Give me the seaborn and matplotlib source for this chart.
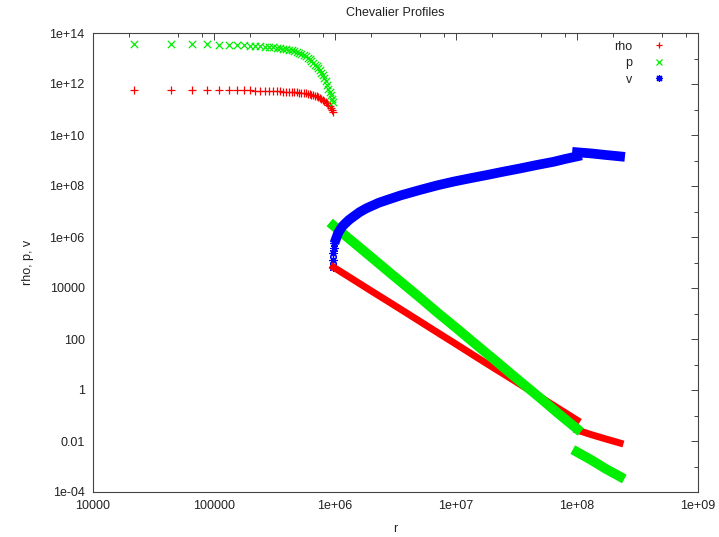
import matplotlib
matplotlib.use('Agg')
import matplotlib.pyplot as plt
import seaborn as sns
from matplotlib.ticker import FixedLocator, FixedFormatter, LogLocator, NullFormatter
from matplotlib.lines import Line2D

# ---------------- data ----------------
r_inner = [22000, 44000, 66000, 88000, 110000, 132000, 154000, 176000, 198000, 220000,
           242000, 264000, 286000, 308000, 330000, 352000, 374000, 396000, 418000, 440000,
           462000, 484000, 506000, 528000, 550000, 572000, 594000, 616000, 638000, 660000,
           682000, 704000, 726000, 748000, 770000, 792000, 814000, 836000, 858000, 880000,
           902000, 924000, 946000, 968000]
rho_inner = [5.89e11, 5.89e11, 5.89e11, 5.89e11, 5.75e11, 5.75e11, 5.75e11, 5.62e11, 5.62e11, 5.50e11,
             5.50e11, 5.37e11, 5.37e11, 5.25e11, 5.25e11, 5.13e11, 5.01e11, 5.01e11, 4.90e11, 4.79e11,
             4.79e11, 4.68e11, 4.57e11, 4.47e11, 4.37e11, 4.27e11, 4.07e11, 3.89e11, 3.80e11, 3.63e11,
             3.47e11, 3.31e11, 3.09e11, 2.88e11, 2.69e11, 2.40e11, 2.19e11, 2.00e11, 1.78e11, 1.55e11,
             1.38e11, 1.17e11, 1.00e11, 8.1e10]
p_inner = [3.63e13, 3.63e13, 3.63e13, 3.55e13, 3.47e13, 3.47e13, 3.39e13, 3.31e13, 3.16e13, 3.09e13,
           3.02e13, 2.95e13, 2.88e13, 2.75e13, 2.63e13, 2.51e13, 2.40e13, 2.29e13, 2.24e13, 2.14e13,
           2.00e13, 1.82e13, 1.66e13, 1.51e13, 1.35e13, 1.20e13, 1.07e13, 9.3e12, 7.9e12, 6.8e12,
           5.75e12, 4.9e12, 4.17e12, 3.47e12, 2.82e12, 2.24e12, 1.74e12, 1.26e12, 8.9e11, 6.6e11,
           4.8e11, 3.55e11, 2.69e11, 2.04e11]

r_mid = [9.7e5, 1.2e6, 1.5e6, 2e6, 3e6, 5e6, 7e6, 1e7, 1.5e7, 2e7, 3e7, 5e7, 7e7, 1e8]
rho_mid = [6.6e4, 3.5e4, 1.8e4, 7.6e3, 2.3e3, 500, 182, 63, 18.6, 7.9, 2.4, 0.52, 0.19, 0.066]
p_mid = [2.8e6, 1.2e6, 5.0e5, 1.6e5, 3.2e4, 4.3e3, 1.1e3, 275, 55, 17.8, 3.5, 0.47, 0.12, 0.030]

r_vpts = [9.6e5, 9.65e5, 9.7e5, 9.8e5, 9.9e5, 1.0e6]
v_pts = [6.6e4, 1.3e5, 2.3e5, 3.7e5, 5.8e5, 8.0e5]
r_vmid = [1.02e6, 1.04e6, 1.06e6, 1.1e6, 1.15e6, 1.2e6, 1.3e6, 1.42e6, 1.6e6, 1.8e6, 1.95e6,
          2.3e6, 2.67e6, 3.5e6, 5.04e6, 7e6, 9.5e6, 1.3e7, 1.8e7, 2.5e7, 3.4e7, 4.6e7,
          6.4e7, 8e7, 1e8]
v_mid = [8.5e5, 1.1e6, 1.4e6, 1.9e6, 2.6e6, 3.2e6, 4.6e6, 6.3e6, 9.5e6, 1.3e7, 1.55e7,
         2.2e7, 2.8e7, 4.3e7, 7.0e7, 1.06e8, 1.48e8, 2.0e8, 2.7e8, 3.7e8, 4.9e8, 6.6e8,
         8.9e8, 1.15e9, 1.45e9]

r_out = [1e8, 1.3e8, 1.7e8, 2.27e8]
rho_out = [0.027, 0.018, 0.0123, 0.0083]
p_out = [0.0037, 0.00185, 8.5e-4, 4.0e-4]
v_out = [2.1e9, 1.9e9, 1.66e9, 1.45e9]

xticks = [1e4, 1e5, 1e6, 1e7, 1e8, 1e9]
xtick_labels = ["10000", "100000", "1e+06", "1e+07", "1e+08", "1e+09"]
yticks = [1e-4, 1e-2, 1, 1e2, 1e4, 1e6, 1e8, 1e10, 1e12, 1e14]
ytick_labels = ["1e-04", "0.01", "1", "100", "10000", "1e+06", "1e+08", "1e+10", "1e+12", "1e+14"]
yminor = [1e-3, 1e-1, 1e1, 1e3, 1e5, 1e7, 1e9, 1e11, 1e13]
series_names = ["rho", "p", "v"]

# ---------------- styling ----------------
sns.set_theme(style='white')
plt.rcParams['font.family'] = ['Liberation Sans', 'DejaVu Sans']
TXT = '#222222'
FS = 9
RED, GREEN, BLUE = '#ff0000', '#00ee00', '#0000ff'
ASTER = (8, 2, 0)

fig = plt.figure(figsize=(7.19, 5.37), dpi=100)
ax = fig.add_axes([93 / 719, 1 - 492 / 537, 605 / 719, 459 / 537])
ax.set_xscale('log')
ax.set_yscale('log')

band = dict(estimator=None, sort=False, legend=False, solid_capstyle='projecting',
            solid_joinstyle='round')

# rho
sns.scatterplot(x=r_inner, y=rho_inner, ax=ax, marker='+', s=28, color=RED, linewidth=0.9, legend=False)
sns.lineplot(x=r_mid, y=rho_mid, ax=ax, color=RED, lw=5, **band)
sns.lineplot(x=r_out, y=rho_out, ax=ax, color=RED, lw=5, **band)
# p
sns.scatterplot(x=r_inner, y=p_inner, ax=ax, marker='x', s=28, color=GREEN, linewidth=0.9, legend=False)
sns.lineplot(x=r_mid, y=p_mid, ax=ax, color=GREEN, lw=7, **band)
sns.lineplot(x=r_out, y=p_out, ax=ax, color=GREEN, lw=7, **band)
# v
sns.scatterplot(x=r_vpts, y=v_pts, ax=ax, marker=ASTER, s=30, color=BLUE, linewidth=0.9, legend=False)
sns.lineplot(x=r_vmid, y=v_mid, ax=ax, color=BLUE, lw=7, **band)
sns.lineplot(x=r_out, y=v_out, ax=ax, color=BLUE, lw=7, **band)

ax.set_xlim(1e4, 1e9)
ax.set_ylim(1e-4, 1e14)

ax.xaxis.set_major_locator(FixedLocator(xticks))
ax.xaxis.set_major_formatter(FixedFormatter(xtick_labels))
ax.xaxis.set_minor_locator(LogLocator(base=10, subs=(2, 5, 8), numticks=20))
ax.xaxis.set_minor_formatter(NullFormatter())
ax.yaxis.set_major_locator(FixedLocator(yticks))
ax.yaxis.set_major_formatter(FixedFormatter(ytick_labels))
ax.yaxis.set_minor_locator(FixedLocator(yminor))
ax.yaxis.set_minor_formatter(NullFormatter())

ax.tick_params(which='both', direction='in', top=True, right=True, color='#444444', width=0.7,
               labelsize=FS, labelcolor=TXT)
ax.tick_params(which='major', length=5, pad=6)
ax.tick_params(which='minor', length=3)
for s in ax.spines.values():
    s.set_color('#444444')
    s.set_linewidth(0.8)

ax.set_title('Chevalier Profiles', fontsize=FS, color=TXT, pad=12)
ax.set_xlabel('r', fontsize=FS, color=TXT)
ax.set_ylabel('rho, p, v', fontsize=FS, color=TXT)
ax.xaxis.set_label_coords(0.5, -0.068)
ax.yaxis.set_label_coords(-0.098, 0.5)

handles = [Line2D([], [], ls='none', marker='+', ms=5, mew=0.9, color=RED),
           Line2D([], [], ls='none', marker='x', ms=5, mew=0.9, color=GREEN),
           Line2D([], [], ls='none', marker=ASTER, ms=5, mew=0.9, color=BLUE)]
leg = ax.legend(handles, series_names, loc='upper right', bbox_to_anchor=(0.957, 0.983),
                frameon=False, markerfirst=False, fontsize=FS, labelspacing=0.35,
                handlelength=2.0, handletextpad=1.2, borderpad=0, borderaxespad=0)
for t in leg.get_texts():
    t.set_color(TXT)

fig.savefig('out.png', dpi=100)
